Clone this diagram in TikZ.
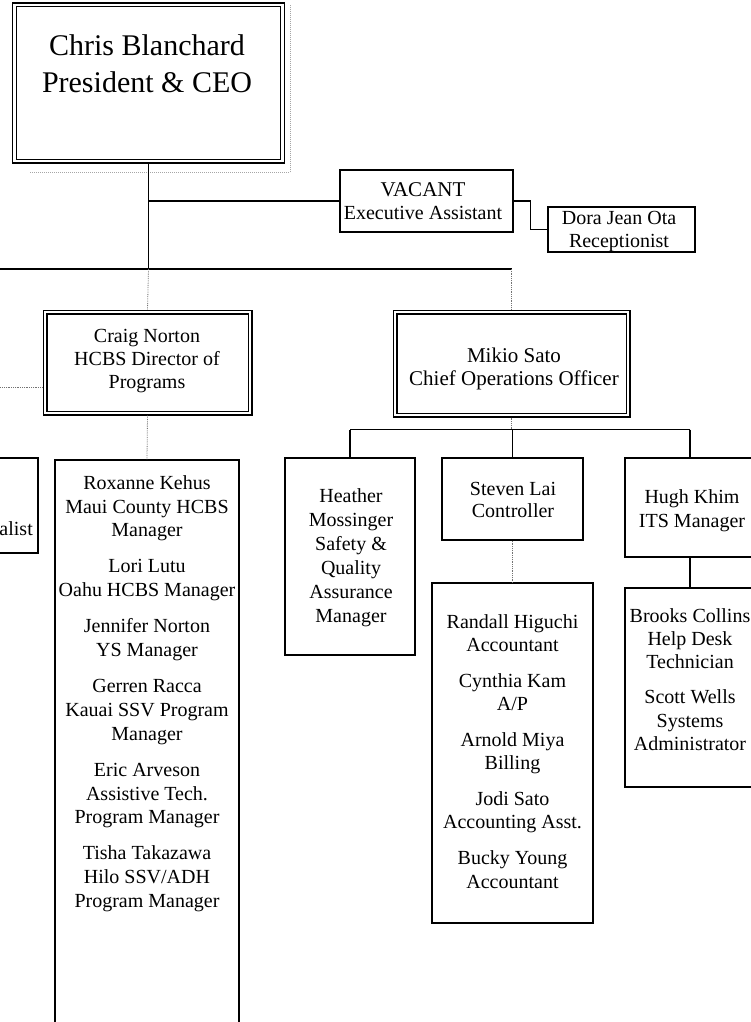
\documentclass[tikz,border=0pt]{standalone}
\usepackage{fontspec}
\setmainfont{Liberation Serif}
\usetikzlibrary{calc}
\begin{document}
\begin{tikzpicture}[x=1pt,y=-1pt,
  box/.style={draw=black, line width=1.4pt, inner sep=0pt, outer sep=0.7pt},
  dbox/.style={draw=black, line width=1.2pt, double, double distance=2.6pt, inner sep=0pt, outer sep=2.5pt},
  txt/.style={anchor=north, inner sep=0pt, align=center, font=\fontsize{20}{23.5}\selectfont},
  conn/.style={draw=black, line width=1.3pt},
  faint/.style={draw=black!55, line width=0.8pt, densely dotted},
  shadowln/.style={draw=black!35, line width=1pt, densely dotted}]
\useasboundingbox (0,0) rectangle (751,1022);
\clip (0,0) rectangle (751,1022);
\fill[white] (0,0) rectangle (751,1022);

% boxes
\node[dbox, minimum width=268pt, minimum height=156pt] (ceo) at (148.5,83) {};
\node[box, minimum width=173pt, minimum height=62pt] (vacant) at (426.5,201) {};
\node[box, minimum width=147pt, minimum height=45pt] (dora) at (621.5,229.5) {};
\node[dbox, minimum width=205pt, minimum height=101pt] (craig) at (147.5,362.5) {};
\node[dbox, minimum width=233pt, minimum height=103pt] (mikio) at (511.5,363.5) {};
\node[box, minimum width=78pt, minimum height=95pt] (partial) at (-1,505.5) {};
\node[box, minimum width=184pt, minimum height=580pt] (roxanne) at (147,750) {};
\node[box, minimum width=130pt, minimum height=197pt] (heather) at (350,556.5) {};
\node[box, minimum width=141pt, minimum height=82pt] (steven) at (512.5,499) {};
\node[box, minimum width=161pt, minimum height=340pt] (randall) at (512.5,753) {};
\node[box, minimum width=130pt, minimum height=99pt] (hugh) at (690,507.5) {};
\node[box, minimum width=130pt, minimum height=199pt] (brooks) at (690,687.5) {};

% shadow of the top box
\draw[shadowln] ($(ceo.south west)+(18,9)$) -- ($(ceo.south east)+(5,9)$) -- ($(ceo.north east)+(5,2)$);

% connectors
\coordinate (hub) at (148.5,269);
\coordinate (lend) at (-5,269);
\coordinate (lend2) at (-5,387);
\draw[conn] (ceo.south) -- (hub);
\draw[conn] (lend) -- (hub) -- (hub -| mikio.north);
\draw[faint] (hub -| mikio.north) -- (mikio.north);
\draw[conn] (ceo.south |- vacant.west) -- (vacant.west);
\draw[conn] (vacant.east) -- ++(17,0) |- (dora.west);
\draw[faint] (hub) -- (craig.north);
\draw[faint] (lend2) -- (lend2 -| craig.west);
\draw[faint] (craig.south) -- (roxanne.north);
\draw[faint] (mikio.south) -- ++(0,12) coordinate (bus);
\draw[conn] (bus -| heather.north) -- (bus -| hugh.north);
\draw[conn] (bus -| heather.north) -- (heather.north);
\draw[conn] (bus -| steven.north) -- (steven.north);
\draw[conn] (bus -| hugh.north) -- (hugh.north);
\draw[faint] (steven.south) -- (randall.north);
\draw[conn] (hugh.south) -- (brooks.north);

% texts
\node[txt, font=\fontsize{30}{37}\selectfont] (tceo) at (147,34.5) {Chris Blanchard\\President \& CEO};
\node[txt] (tvacant) at (423,182) {\fontsize{21}{22}\selectfont VACANT\\\fontsize{20}{22}\selectfont Executive Assistant};
\node[txt, font=\fontsize{20}{23}\selectfont] (tdora) at (619,210.8) {Dora Jean Ota\\Receptionist};
\node[txt, font=\fontsize{20}{23}\selectfont] (tcraig) at (147,328.8) {Craig Norton\\HCBS Director of\\Programs};
\node[txt, font=\fontsize{21}{23}\selectfont] (tmikio) at (514,347.7) {Mikio Sato\\Chief Operations Officer};
\node[anchor=base east, inner sep=0pt, font=\fontsize{20}{23.5}\selectfont] (tpartial) at (33,535) {alist};
\node[txt, font=\fontsize{20}{23.7}\selectfont] (troxanne) at (147,475.3) {Roxanne Kehus\\Maui County HCBS\\Manager\\[12.5pt]Lori Lutu\\Oahu HCBS Manager\\[12.5pt]Jennifer Norton\\YS Manager\\[12.5pt]Gerren Racca\\Kauai SSV Program\\Manager\\[12.5pt]Eric Arveson\\Assistive Tech.\\Program Manager\\[12.5pt]Tisha Takazawa\\Hilo SSV/ADH\\Program Manager};
\node[txt, font=\fontsize{20}{24}\selectfont] (theather) at (351,488.3) {Heather\\Mossinger\\Safety \&\\Quality\\Assurance\\Manager};
\node[txt, font=\fontsize{20}{22}\selectfont] (tsteven) at (513,481.7) {Steven Lai\\Controller};
\node[txt, font=\fontsize{20}{23.3}\selectfont] (trandall) at (512.5,614.3) {Randall Higuchi\\Accountant\\[12.5pt]Cynthia Kam\\A/P\\[12.5pt]Arnold Miya\\Billing\\[12.5pt]Jodi Sato\\Accounting Asst.\\[12.5pt]Bucky Young\\Accountant};
\node[txt, font=\fontsize{20}{24}\selectfont] (thugh) at (692,489.3) {Hugh Khim\\ITS Manager};
\node[txt, font=\fontsize{20}{23.3}\selectfont] (tbrooks) at (690,608.3) {Brooks Collins\\Help Desk\\Technician\\[11.7pt]Scott Wells\\Systems\\Administrator};
\end{tikzpicture}
\end{document}
